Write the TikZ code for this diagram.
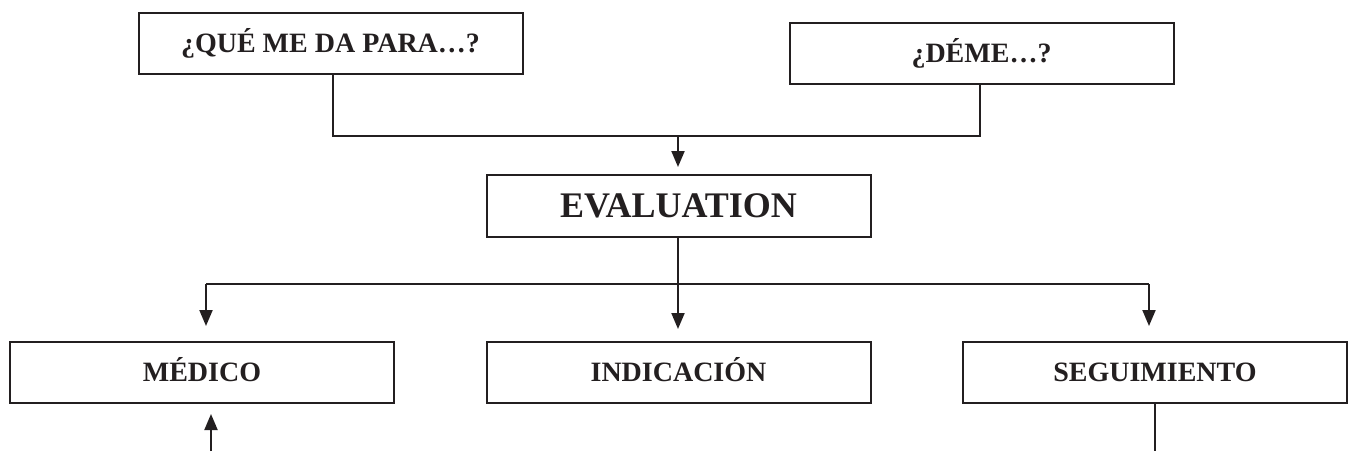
\documentclass[tikz,border=0pt]{standalone}
\usepackage{fontspec}
\setmainfont{Liberation Serif}
\usetikzlibrary{arrows.meta}
\definecolor{ink}{RGB}{35,31,32}
\begin{document}
\begin{tikzpicture}[x=0.5pt,y=-0.5pt,
  boxnode/.style={draw=ink,line width=1pt,rectangle,inner sep=0pt,
    minimum width=192pt,minimum height=30.5pt,text=ink,
    text height=9.3pt,text depth=0pt,font=\bfseries\fontsize{14}{16}\selectfont},
  bignode/.style={boxnode,text height=11.9pt,font=\bfseries\fontsize{18}{20}\selectfont},
  conn/.style={draw=ink,line width=1pt},
  arr/.style={conn,-{Triangle[length=8pt,width=6.5pt]}}]
\useasboundingbox (0,0) rectangle (1350,451);
\fill[white] (0,0) rectangle (1350,451);
% top boxes
\node[boxnode] (q1) at (330.5,43.5) {¿QUÉ ME DA PARA…?};
\node[boxnode] (q2) at (981.5,53) {¿DÉME…?};
\node[bignode,minimum height=31pt] (ev) at (678.5,206) {EVALUATION};
% bottom boxes
\node[boxnode] (med) at (202,372.5) {MÉDICO};
\node[boxnode] (ind) at (678.5,372.5) {INDICACIÓN};
\node[boxnode] (seg) at (1155,372.5) {SEGUIMIENTO};
% junctions
\coordinate (j1) at (678,135.5);
\coordinate (j2) at (678,284);
\coordinate (lt) at (206,284);
\coordinate (rt) at (1149,284);
\coordinate (medin) at (211,451);
\coordinate (segout) at (1155,451);
% connectors
\draw[conn] (q1.south -| 333,0) |- (j1);
\draw[conn] (q2.south -| 980,0) |- (j1);
\draw[arr,shorten >=3.5pt] (j1) -- (ev.north -| j1);
\draw[arr,shorten >=6pt] (ev.south -| j2) -- (ind.north -| j2);
\draw[conn] (lt) -- (rt);
\draw[arr,shorten >=7.5pt] (lt) -- (med.north -| lt);
\draw[arr,shorten >=7.5pt] (rt) -- (seg.north -| rt);
\draw[arr,shorten >=5pt] (medin) -- (med.south -| medin);
\draw[conn] (seg.south) -- (segout);
\end{tikzpicture}
\end{document}
